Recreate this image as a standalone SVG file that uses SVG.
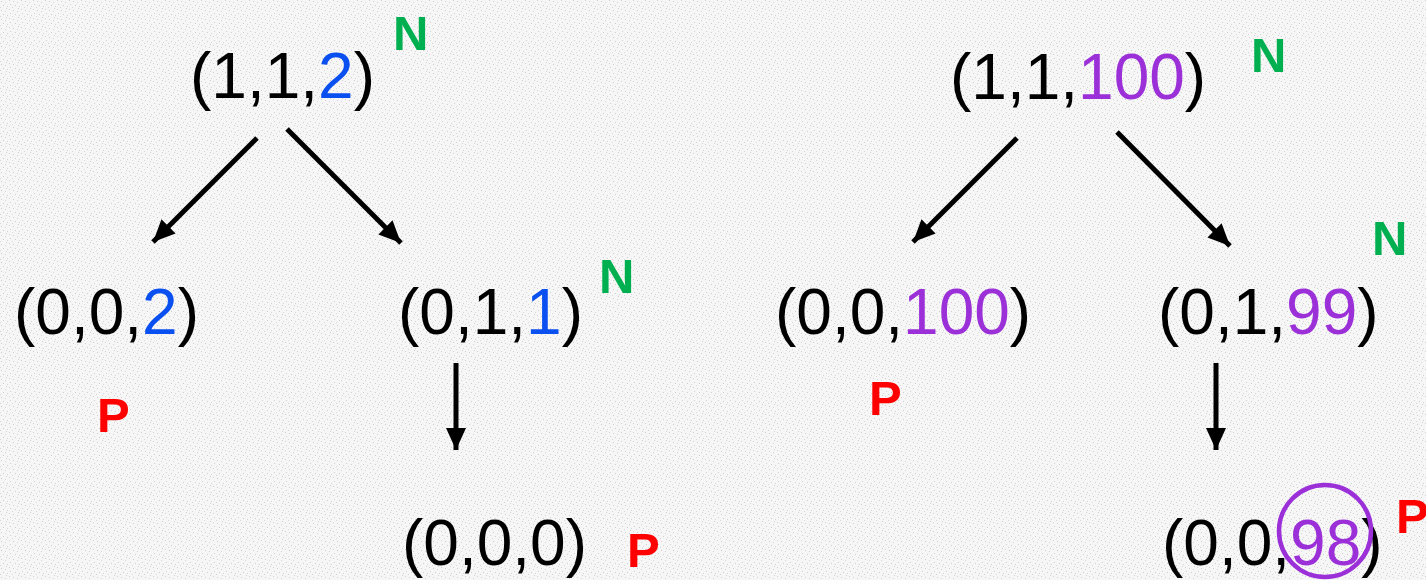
<svg xmlns="http://www.w3.org/2000/svg" width="1426" height="580" viewBox="0 0 1426 580">
<style>
.t{font-family:"Liberation Sans",Arial,sans-serif;font-size:64px;fill:#000}
.b{fill:#0a4ff0}
.v{fill:#9b30d9}
.n{font-family:"Liberation Sans",Arial,sans-serif;font-size:49px;font-weight:bold;fill:#00b050}
.p{font-family:"Liberation Sans",Arial,sans-serif;font-size:49px;font-weight:bold;fill:#ff0000}
.c{stroke:#000;stroke-width:5;fill:none;marker-end:url(#ah)}
</style>
<defs>
<marker id="ah" markerUnits="userSpaceOnUse" markerWidth="24" markerHeight="20" refX="22" refY="10" orient="auto">
<path d="M0,0 L22,10 L0,20 Z" fill="#000"/>
</marker>
<pattern id="bg" width="12" height="9" patternUnits="userSpaceOnUse">
<rect width="12" height="9" fill="#f6f6f6"/>
<rect x="1" y="1" width="1" height="1" fill="#cfcfcf"/>
<rect x="5" y="2" width="1" height="1" fill="#d6d6d6"/>
<rect x="9" y="0" width="1" height="1" fill="#d2d2d2"/>
<rect x="3" y="5" width="1" height="1" fill="#cdcdcd"/>
<rect x="7" y="6" width="1" height="1" fill="#d4d4d4"/>
<rect x="10" y="4" width="1" height="1" fill="#d1d1d1"/>
<rect x="0" y="7" width="1" height="1" fill="#d7d7d7"/>
<rect x="6" y="8" width="1" height="1" fill="#d3d3d3"/>
</pattern>
</defs>
<rect width="1426" height="580" fill="url(#bg)"/>
<g id="connectors">
<line class="c" x1="257" y1="138" x2="153" y2="242"/>
<line class="c" x1="287" y1="129" x2="401" y2="243"/>
<line class="c" x1="456" y1="363" x2="456" y2="450"/>
<line class="c" x1="1017" y1="138" x2="913" y2="242"/>
<line class="c" x1="1117" y1="132" x2="1230" y2="246"/>
<line class="c" x1="1216" y1="363" x2="1216" y2="450"/>
</g>
<g id="n112"><text class="t" x="190" y="98">(1,1,<tspan class="b">2</tspan>)</text><text class="n" x="393" y="50">N</text></g>
<g id="n002"><text class="t" x="14" y="334">(0,0,<tspan class="b">2</tspan>)</text><text class="p" x="97" y="432">P</text></g>
<g id="n011"><text class="t" x="398" y="334">(0,1,<tspan class="b">1</tspan>)</text><text class="n" x="599" y="293">N</text></g>
<g id="n000"><text class="t" x="402" y="565">(0,0,0)</text><text class="p" x="627" y="567">P</text></g>
<g id="n11100"><text class="t" x="950" y="99">(1,1,<tspan class="v">100</tspan>)</text><text class="n" x="1251" y="72">N</text></g>
<g id="n00100"><text class="t" x="775" y="334">(0,0,<tspan class="v">100</tspan>)</text><text class="p" x="869" y="415">P</text></g>
<g id="n0199"><text class="t" x="1158" y="334">(0,1,<tspan class="v">99</tspan>)</text><text class="n" x="1372" y="255">N</text></g>
<g id="n0098"><text class="t" x="1162" y="565">(0,0,<tspan class="v">98</tspan>)</text><circle cx="1325" cy="531" r="46" fill="none" stroke="#9b30d9" stroke-width="4.5"/><text class="p" x="1396" y="533">P</text></g>
</svg>
